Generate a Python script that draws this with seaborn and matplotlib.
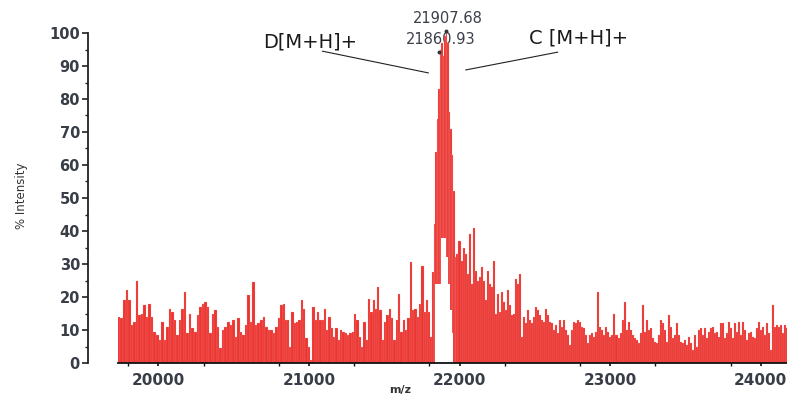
import numpy as np
import pandas as pd
import matplotlib
matplotlib.use("Agg")
import matplotlib.pyplot as plt
import seaborn as sns
from matplotlib.ticker import MultipleLocator, FixedLocator

# ---------------- data ----------------
# segment m/z ranges (Da) and intensities (% of base peak)
seg1_range = (19740, 20835)
seg1_int = [14, 13.5, 19, 22, 19, 11.5, 12.5, 25, 14.5, 15, 17.5, 14, 18, 14, 9.5,
            8.5, 7, 12.5, 7, 11, 16.5, 15.5, 13, 8.5, 13, 16.5, 21.5, 9, 15, 10.5,
            9.5, 14.5, 17, 18, 18.5, 17, 9, 15, 16, 11, 4.5, 10, 11, 12.5, 11.5,
            13, 8, 13.5, 9.5, 8.5, 11.5, 20.5, 12.5, 24.5, 11.5, 12, 13, 14, 11, 10,
            10, 9, 11, 13.5, 17.5, 18]

seg2_range = (20845, 21815)
seg2_int = [13, 13, 5, 15.5, 12, 12.5, 13, 19, 16.5, 7.5, 5, 1, 17, 13, 15.5, 13, 13,
            16.5, 10, 14, 10.5, 8, 10.5, 7, 10, 9.5, 9, 8.5, 9, 9.5, 15, 13, 8, 5,
            12.5, 7, 19.5, 15.5, 19, 16.5, 23, 16, 7, 12.5, 14.5, 16.5, 13.5, 7, 13,
            21, 9.5, 13, 10, 13.5, 30.5, 16, 16.5, 14, 18, 29.5, 15.5, 19, 15.5, 8]

peak_range = (21825, 21985)
peak_int = [27.5, 42, 64, 74, 83, 95, 97, 93, 99, 100, 97, 76, 71, 63, 52, 32, 33]

seg3_range = (22000, 23056)
seg3_int = [37, 31, 35, 33, 27, 39, 24, 41, 28, 25, 26, 29, 25, 19, 28, 24, 23, 31, 15,
            21, 15.5, 21.5, 18.5, 16, 22, 17.5, 14.5, 15, 25.5, 24, 27, 8, 14, 12, 16,
            13, 12, 14, 17, 16, 14.5, 13, 12.5, 16.5, 14.5, 12.5, 12, 10, 11.5, 9, 13,
            11, 13, 10, 8.5, 5.5, 10, 12.5, 12, 13, 12.5, 11, 10.5, 8.5, 6, 8.5, 9, 8,
            9.5, 21.5, 11, 10, 8.5, 11, 9.5, 8, 8.5, 15, 8.5, 7.5]

seg4_range = (23072, 24172)
seg4_int = [9, 13, 18.5, 10, 12.5, 10, 8.5, 7.5, 7, 6, 9, 17.5, 9.5, 13, 10, 10.5, 7.5,
            6.5, 6, 8.5, 13, 12, 10, 6.5, 14.5, 11, 7.5, 8.5, 12, 8.5, 6.5, 6, 7, 5.5,
            8, 6, 4, 8.5, 5, 10, 10.5, 8.5, 10.5, 7.5, 9.5, 10.5, 11, 9, 9.5, 8, 12, 12,
            7.5, 9, 12.5, 10.5, 7.5, 12, 9.5, 12.5, 8.5, 12.5, 10, 7, 9, 9.5, 8, 7.5,
            10.5, 12.5, 10, 11, 8.5, 12, 9, 4, 17.5, 11, 11.5, 11, 11.5, 9, 11.5, 10.5]

# white notch seen under the main peak
valley_mz = [21846, 21858, 21870, 21882, 21894, 21906, 21918, 21930, 21942, 21954]
valley_int = [24, 24, 24, 38, 38, 38, 32, 24, 16, 9]

peak_labels = ["21907.68", "21860.93"]
peak_label_mz = [21907.68, 21860.93]
annot_D = "D[M+H]+"
annot_C = "C [M+H]+"

x_major = [20000, 21000, 22000, 23000, 24000]
x_minor = [19800, 20300, 20800, 21300, 21800, 22300, 22800, 23300, 23800]

# ---------------- build tables ----------------
segs = [(seg1_range, seg1_int), (seg2_range, seg2_int), (peak_range, peak_int),
        (seg3_range, seg3_int), (seg4_range, seg4_int)]
spec = pd.DataFrame({
    "mz": np.concatenate([np.linspace(r[0], r[1], len(v)) for r, v in segs]),
    "intensity": np.concatenate([np.asarray(v, float) for r, v in segs]),
})
valley = pd.DataFrame({"mz": np.asarray(valley_mz, float),
                       "intensity": np.asarray(valley_int, float)})


def edges_from_centers(c):
    c = np.asarray(c, float)
    mid = (c[1:] + c[:-1]) / 2
    first = c[0] - (mid[0] - c[0])
    last = c[-1] + (c[-1] - mid[-1])
    return [float(e) for e in np.concatenate([[first], mid, [last]])]


edges = edges_from_centers(spec["mz"])
v_edges = edges_from_centers(valley["mz"])

# ---------------- figure ----------------
sns.set_style("white")
plt.rcParams['font.family'] = ['DejaVu Sans']
fig = plt.figure(figsize=(7.87, 4.01), dpi=100)
ax = fig.add_axes([118 / 787, 38 / 401, 669 / 787, 330 / 401])

bar_red = "#ec3430"
sns.histplot(data=spec, x="mz", weights="intensity", bins=edges, color=bar_red,
             alpha=1, edgecolor="#f4a09e", linewidth=0.15, ax=ax)
sns.histplot(data=valley, x="mz", weights="intensity", bins=v_edges, color="white",
             alpha=1, edgecolor="none", linewidth=0, ax=ax)

ax.set_xlim(19732, 24175)
ax.set_ylim(0, 100)

# spines
for s in ["top", "right"]:
    ax.spines[s].set_visible(False)
ax.spines["left"].set_position(("outward", 21.6))
ax.spines["left"].set_bounds(0, 100)
ax.spines["left"].set_color("#222222")
ax.spines["left"].set_linewidth(1.3)
ax.spines["bottom"].set_color("#111111")
ax.spines["bottom"].set_linewidth(1.3)

# ticks
tick_col = "#383d48"
ax.yaxis.set_major_locator(MultipleLocator(10))
ax.yaxis.set_minor_locator(MultipleLocator(5))
ax.xaxis.set_major_locator(FixedLocator(x_major))
ax.xaxis.set_minor_locator(FixedLocator(x_minor))
ax.tick_params(axis="y", which="major", direction="out", length=4.3, width=1.2,
               color="#222222", labelsize=10.5, labelcolor=tick_col, pad=1.5, left=True)
ax.tick_params(axis="y", which="minor", direction="out", length=2.2, width=1,
               color="#222222", left=True)
ax.tick_params(axis="x", which="major", direction="out", length=2.5, width=1.2,
               color="#111111", labelsize=11, labelcolor=tick_col, pad=5, bottom=True)
ax.tick_params(axis="x", which="minor", direction="out", length=1.8, width=1,
               color="#111111", bottom=True)
for lab in ax.get_xticklabels() + ax.get_yticklabels():
    lab.set_fontweight("semibold")

ax.set_xlabel("m/z", fontsize=8, color="#333333", fontweight="semibold")
ax.xaxis.set_label_coords(0.4215, -0.068)
ax.xaxis.label.set_va("top")
ax.set_ylabel("% Intensity", fontsize=8.5, color="#333333")
ax.yaxis.set_label_coords(-0.1345, 0.506)

# peak labels
ax.text(21921, 104.3, peak_labels[0], ha="center", va="center", fontsize=10.5,
        color="#3a3f4a", clip_on=False)
ax.text(21874, 97.9, peak_labels[1], ha="center", va="center", fontsize=10.5,
        color="#3a3f4a", clip_on=False, zorder=0.5)
ax.plot([peak_label_mz[0]], [100.6], marker="o", ms=1.8, color="#333333", clip_on=False)
ax.plot([peak_label_mz[1]], [94.2], marker="o", ms=1.8, color="#333333", clip_on=False)

# species annotations
ax.text(21010, 97.3, annot_D, ha="center", va="center", fontsize=14, color="#1a1a1a",
        clip_on=False)
ax.text(22790, 98.5, annot_C, ha="center", va="center", fontsize=14, color="#1a1a1a",
        clip_on=False)
ax.plot([21089, 21794], [94.5, 87.9], color="#222222", lw=0.8, clip_on=False)
ax.plot([22041, 22653], [88.8, 94.2], color="#222222", lw=0.8, clip_on=False)

fig.savefig("out.png", dpi=100, facecolor="white")
